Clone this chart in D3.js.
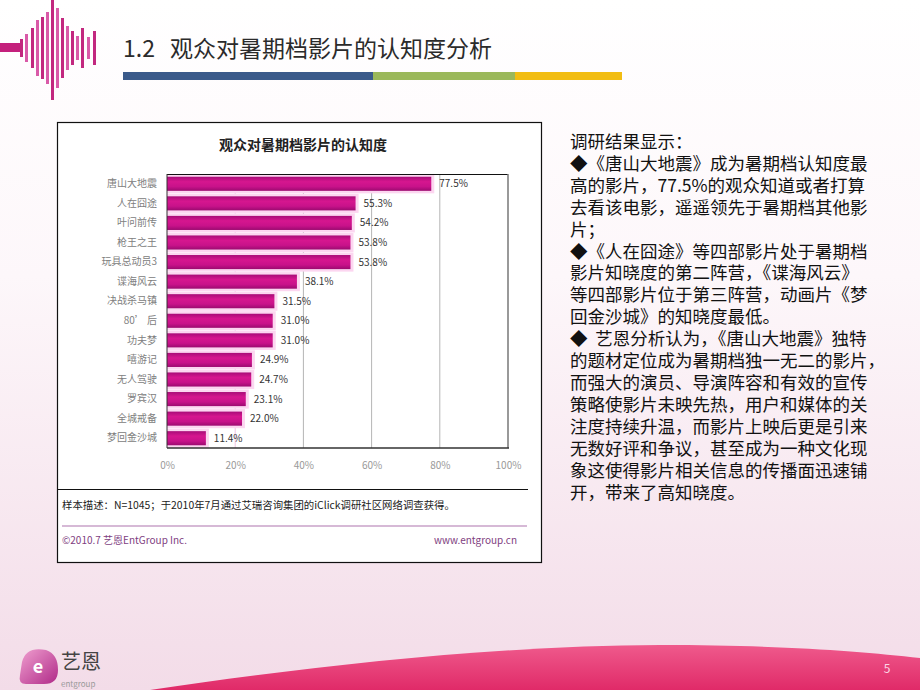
<!DOCTYPE html>
<html><head><meta charset="utf-8">
<script src="https://cdn.jsdelivr.net/npm/d3@7"></script>
<style>
html,body{margin:0;padding:0;background:#fff;}
#wrap{position:relative;width:920px;height:690px;overflow:hidden;}
svg{display:block;font-family:"Noto Sans CJK SC","Noto Sans",sans-serif;}
#side{position:absolute;left:570px;top:130px;font-family:"Noto Sans CJK SC",sans-serif;font-size:17.5px;line-height:21.9px;color:#111;white-space:pre;margin:0;}
</style></head>
<body>
<div id="wrap">
<svg id="c" width="920" height="690"></svg>
<div id="side"></div>
</div>
<script>
// ---- data ----
const categories = ["唐山大地震","人在囧途","叶问前传","枪王之王","玩具总动员3","谍海风云","决战杀马镇","80’ 后","功夫梦","嘻游记","无人驾驶","罗宾汉","全城戒备","梦回金沙城"];
const values = [77.5,55.3,54.2,53.8,53.8,38.1,31.5,31.0,31.0,24.9,24.7,23.1,22.0,11.4];
const tickValues = [0,20,40,60,80,100];
const pageNum = "1.2";
const pageTitle = "观众对暑期档影片的认知度分析";
const chartTitle = "观众对暑期档影片的认知度";
const noteText = "样本描述：N=1045；于2010年7月通过艾瑞咨询集团的iClick调研社区网络调查获得。";
const footLeft = "©2010.7  艺恩EntGroup Inc.";
const footRight = "www.entgroup.cn";
const sideLines = [
 "调研结果显示：",
 "◆《唐山大地震》成为暑期档认知度最",
 "高的影片，77.5%的观众知道或者打算",
 "去看该电影，遥遥领先于暑期档其他影",
 "片；",
 "◆《人在囧途》等四部影片处于暑期档",
 "影片知晓度的第二阵营，《谍海风云》",
 "等四部影片位于第三阵营，动画片《梦",
 "回金沙城》的知晓度最低。",
 "◆  艺恩分析认为，《唐山大地震》独特",
 "的题材定位成为暑期档独一无二的影片，",
 "而强大的演员、导演阵容和有效的宣传",
 "策略使影片未映先热，用户和媒体的关",
 "注度持续升温，而影片上映后更是引来",
 "无数好评和争议，甚至成为一种文化现",
 "象这使得影片相关信息的传播面迅速铺",
 "开，带来了高知晓度。"
];
// decorative wave logo: [offset, half-height]
const waveBars = [[0,9],[5,14],[11,20],[16,28],[21,31],[26,36],[31,52],[36,40],[41,30],[46,22],[51,17],[56,12],[61,20],[67,11],[73,17]];

const svg = d3.select("#c");
const defs = svg.append("defs");

// background gradient
const bg = defs.append("linearGradient").attr("id","bg").attr("x1",0).attr("y1",0).attr("x2",0).attr("y2",1);
bg.append("stop").attr("offset","0").attr("stop-color","#ffffff");
bg.append("stop").attr("offset","0.4").attr("stop-color","#fdf7fa");
bg.append("stop").attr("offset","1").attr("stop-color","#f3dce8");
svg.append("rect").attr("width",920).attr("height",690).attr("fill","url(#bg)");

// bottom swoosh
const sw = defs.append("linearGradient").attr("id","sw").attr("x1",0).attr("y1",0).attr("x2",0).attr("y2",1);
sw.append("stop").attr("offset","0").attr("stop-color","#ef5a8c");
sw.append("stop").attr("offset","1").attr("stop-color","#e02a68");
svg.append("path")
  .attr("d","M150,690 C300,668 480,646 660,645 C780,645 860,651 920,658 L920,690 Z")
  .attr("fill","url(#sw)");
svg.append("text").attr("x",887).attr("y",673).attr("text-anchor","middle")
  .attr("font-size",12).attr("fill","#fbd6e4").text("5");

// wave logo top-left
svg.append("rect").attr("x",0).attr("y",43).attr("width",20).attr("height",9).attr("fill","#c4207c");
waveBars.forEach((b,i)=>{
  svg.append("rect").attr("x",20+b[0]).attr("y",48-b[1]).attr("width",3).attr("height",b[1]*2)
    .attr("fill", i%2 ? "#d95aa8" : "#c2287f");
});

// page title
svg.append("text").attr("x",123).attr("y",57).attr("font-size",23).attr("fill","#2b2b2b").text(pageNum);
svg.append("text").attr("x",170).attr("y",57).attr("font-size",23).attr("fill","#2b2b2b").text(pageTitle);
svg.append("rect").attr("x",123).attr("y",72).attr("width",250).attr("height",8).attr("fill","#3a5a8a");
svg.append("rect").attr("x",373).attr("y",72).attr("width",142).attr("height",8).attr("fill","#9bb85a");
svg.append("rect").attr("x",515).attr("y",72).attr("width",107).attr("height",8).attr("fill","#f2bd12");

// chart box
svg.append("rect").attr("x",57.5).attr("y",122.5).attr("width",484).attr("height",440)
  .attr("fill","#fff").attr("stroke","#111").attr("stroke-width",1.2);
svg.append("text").attr("x",303).attr("y",150).attr("text-anchor","middle")
  .attr("font-size",14).attr("font-weight","bold").attr("fill","#222").text(chartTitle);

const x = d3.scaleLinear().domain([0,100]).range([167,508]);
const y = d3.scaleBand().domain(categories).range([174,448]).paddingInner(0.28).paddingOuter(0.14);

// gridlines
svg.append("g").selectAll("line").data(tickValues.filter(t=>t>0&&t<100)).join("line")
  .attr("x1",d=>x(d)).attr("x2",d=>x(d)).attr("y1",174).attr("y2",448)
  .attr("stroke",d=>d===20?"#efc6e4":"#b5b5b5").attr("stroke-width",1);

// bars
const bgGrad = defs.append("linearGradient").attr("id","bar").attr("x1",0).attr("y1",0).attr("x2",0).attr("y2",1);
bgGrad.append("stop").attr("offset","0").attr("stop-color","#a80c78");
bgGrad.append("stop").attr("offset","0.35").attr("stop-color","#d6168f");
bgGrad.append("stop").attr("offset","0.7").attr("stop-color","#c8128a");
bgGrad.append("stop").attr("offset","1").attr("stop-color","#9c0a70");

const data = categories.map((c,i)=>({c, v:values[i]}));
svg.append("g").selectAll("rect").data(data).join("rect")
  .attr("x",x(0)).attr("y",d=>y(d.c)-2.5).attr("width",d=>x(d.v)-x(0)+3).attr("height",y.bandwidth()+5)
  .attr("fill","#fcd6f0");
svg.append("g").selectAll("rect").data(data).join("rect")
  .attr("x",x(0)).attr("y",d=>y(d.c)).attr("width",d=>x(d.v)-x(0)).attr("height",y.bandwidth())
  .attr("fill","url(#bar)");
svg.append("g").selectAll("text").data(data).join("text")
  .attr("x",d=>x(d.v)+8).attr("y",d=>y(d.c)+y.bandwidth()/2).attr("dy","0.35em")
  .attr("font-size",10).attr("fill","#333").text(d=>d.v.toFixed(1)+"%");

// frame
svg.append("line").attr("x1",167).attr("x2",508).attr("y1",174.5).attr("y2",174.5).attr("stroke","#111");
svg.append("line").attr("x1",508).attr("x2",508).attr("y1",174).attr("y2",448).attr("stroke","#777").attr("stroke-width",1.5);
svg.append("line").attr("x1",167).attr("x2",509).attr("y1",448).attr("y2",448).attr("stroke","#333").attr("stroke-width",1.5);
svg.append("line").attr("x1",167).attr("x2",167).attr("y1",174).attr("y2",448).attr("stroke","#333").attr("stroke-width",1);

// axes
const ax = svg.append("g").attr("transform","translate(0,448)")
  .call(d3.axisBottom(x).tickValues(tickValues).tickFormat(d=>d+"%").tickSize(0).tickPadding(14));
ax.select(".domain").remove();
ax.selectAll("text").attr("font-size",10).attr("fill","#999").attr("font-family","'Noto Sans CJK SC',sans-serif");

const ay = svg.append("g").attr("transform","translate(167,0)")
  .call(d3.axisLeft(y).tickSize(0).tickPadding(10));
ay.select(".domain").remove();
ay.selectAll("text").attr("font-size",10).attr("fill","#808080").attr("font-family","'Noto Sans CJK SC',sans-serif");

// notes
svg.append("line").attr("x1",58).attr("x2",528).attr("y1",489.5).attr("y2",489.5).attr("stroke","#111").attr("stroke-width",1);
svg.append("text").attr("x",62).attr("y",509).attr("font-size",10.4).attr("fill","#222").text(noteText);
svg.append("line").attr("x1",62).attr("x2",527).attr("y1",526).attr("y2",526).attr("stroke","#c9a2c9").attr("stroke-width",1.5);
svg.append("text").attr("x",62).attr("y",544).attr("font-size",10).attr("fill","#80407f").text(footLeft);
svg.append("text").attr("x",517).attr("y",544).attr("text-anchor","end").attr("font-size",10).attr("fill","#80407f").text(footRight);

// side text (one block, explicit line breaks)
d3.select("#side").text(sideLines.join("\n"));

// bottom logo
const lg = defs.append("linearGradient").attr("id","lg").attr("x1",0).attr("y1",0).attr("x2",1).attr("y2",1);
lg.append("stop").attr("offset","0").attr("stop-color","#f0a0d0");
lg.append("stop").attr("offset","1").attr("stop-color","#b02a88");
svg.append("path").attr("d","M22,662 Q26,646 46,650 Q58,654 58,670 Q58,684 44,684 L26,684 Q18,684 20,675 Z")
  .attr("fill","url(#lg)");
svg.append("text").attr("x",38).attr("y",673).attr("text-anchor","middle").attr("font-size",18)
  .attr("font-weight","bold").attr("fill","#fff").text("e");
svg.append("text").attr("x",61).attr("y",669).attr("font-size",20).attr("fill","#444").text("艺恩");
svg.append("text").attr("x",61).attr("y",687).attr("font-size",8).attr("fill","#999").text("entgroup");
</script>
</body></html>
